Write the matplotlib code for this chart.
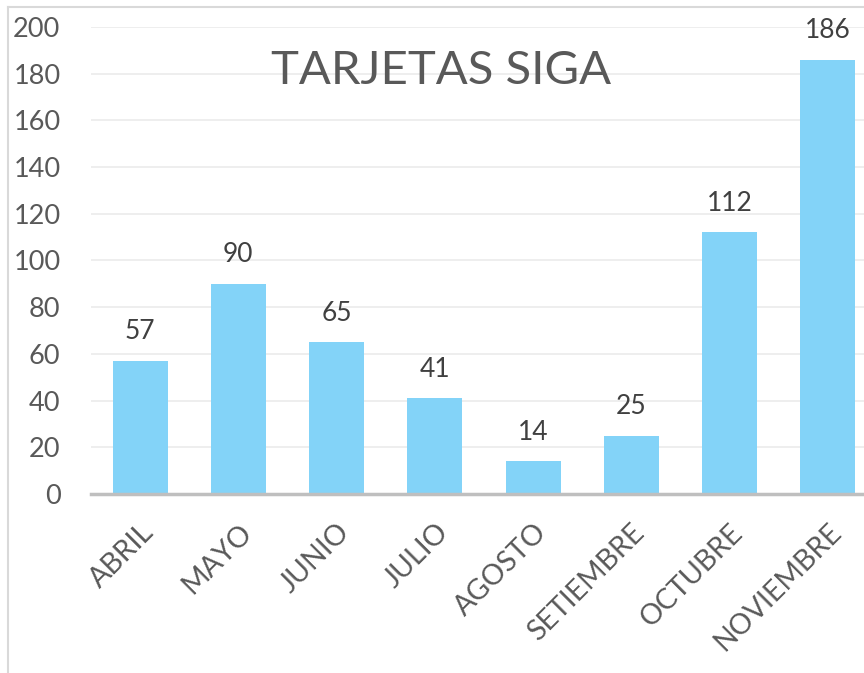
import matplotlib.pyplot as plt
from matplotlib.lines import Line2D

meses = ['ABRIL', 'MAYO', 'JUNIO', 'JULIO', 'AGOSTO',
         'SETIEMBRE', 'OCTUBRE', 'NOVIEMBRE']
tarjetas = [57, 90, 65, 41, 14, 25, 112, 186]
y_ticks = [0, 20, 40, 60, 80, 100, 120, 140, 160, 180, 200]

plt.rcParams['font.family'] = ['Lato', 'DejaVu Sans']

fig = plt.figure(figsize=(8.64, 6.73), dpi=100)
ax = fig.add_axes([0.1053, 0.266, 0.9097, 0.694])

x = range(len(meses))
ax.bar(x, tarjetas, width=0.56, color='#83D3F8', zorder=2)

for i, v in zip(x, tarjetas):
    ax.annotate(str(v), (i, v), xytext=(0, 12), textcoords='offset points',
                ha='center', va='bottom', fontsize=19, color='#404040')

ax.set_xlim(-0.5, len(meses) - 0.5)
ax.set_ylim(0, 200)
ax.set_yticks(y_ticks)
ax.set_xticks(list(x))
ax.set_xticklabels(meses, rotation=45, ha='right', rotation_mode='anchor')
ax.tick_params(axis='y', length=0, pad=22, labelsize=19.5, labelcolor='#595959')
ax.tick_params(axis='x', length=0, pad=18, labelsize=20.5, labelcolor='#595959')

ax.grid(axis='y', color='#EDEDED', linewidth=1.3, zorder=0)
for s in ['top', 'right', 'left']:
    ax.spines[s].set_visible(False)
ax.spines['bottom'].set_color('#BFBFBF')
ax.spines['bottom'].set_linewidth(2.5)
ax.spines['bottom'].set_zorder(3)

ax.text(0.445, 0.905, 'TARJETAS SIGA', transform=ax.transAxes,
        ha='center', va='center', fontsize=34, color='#595959')

# chart frame, only the top and left edges fall inside the image
fig.add_artist(Line2D([8 / 864, 8 / 864], [0, 1 - 7 / 673],
                      transform=fig.transFigure, color='#D9D9D9', linewidth=1.5))
fig.add_artist(Line2D([8 / 864, 1], [1 - 7 / 673, 1 - 7 / 673],
                      transform=fig.transFigure, color='#D9D9D9', linewidth=1.5))

fig.savefig('out.png', dpi=100)
